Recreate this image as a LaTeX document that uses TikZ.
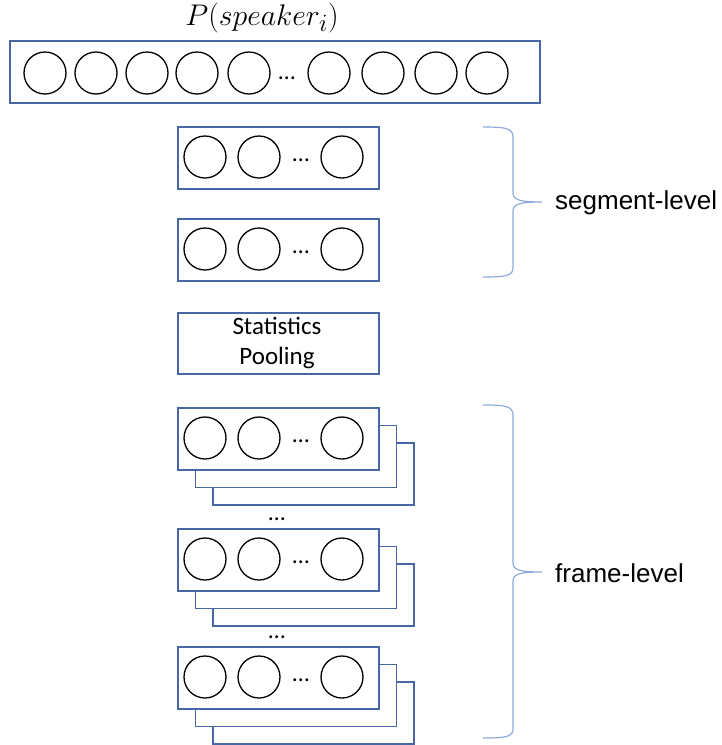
\documentclass[tikz,border=0pt]{standalone}
\usepackage{fontspec}
\setmainfont{Carlito}
\newfontfamily\arialfont{Liberation Sans}
\definecolor{boxblue}{RGB}{72,104,165}
\definecolor{braceblue}{RGB}{143,170,220}
\begin{document}
\begin{tikzpicture}[x=1pt,y=-1pt,
  layerbox/.style={draw=boxblue,line width=1.5pt,fill=white,rectangle,inner sep=0pt,anchor=north west},
  neuron/.style={draw=black,line width=1.3pt,circle,minimum size=42pt,inner sep=0pt},
  dotstext/.style={font=\fontsize{24}{24}\selectfont,inner sep=0pt},
  bracepath/.style={draw=braceblue,line width=1.2pt},
  lbl/.style={font=\arialfont\fontsize{26}{26}\selectfont,anchor=west,inner sep=0pt}]
\useasboundingbox (0,0) rectangle (722,745);
% title
\node[inner sep=0pt,font=\fontsize{24.88}{26}\selectfont] (title) at (262,18) {\scalebox{1.2}{$P(speaker_i)$}};
% output layer
\node[layerbox,minimum width=530pt,minimum height=62pt] (out) at (9,40) {};
\foreach \x [count=\i] in {45,96,147,197,249,329,383,436,487}
  \node[neuron] (o\i) at (\x,73) {};
\node[dotstext] (odots) at (287,78) {\dots};
% segment-level layers
\foreach \n/\y in {s1/126,s2/218}{
  \node[layerbox,minimum width=201pt,minimum height=62pt] (\n) at (177,\y) {};
  \node[neuron] (\n a) at (205,\y+31) {};
  \node[neuron] (\n b) at (259,\y+31) {};
  \node[neuron] (\n c) at (342,\y+31) {};
  \node[dotstext] (\n d) at (301,\y+34) {\dots};
}
% statistics pooling
\node[layerbox,minimum width=201pt,minimum height=61pt] (pool) at (177,312) {};
\node[font=\fontsize{25}{30}\selectfont,align=center,inner sep=0pt] (pooltxt) at (277,343) {Statistics\\Pooling};
% frame-level layers
\foreach \n/\y in {f1/407,f2/528,f3/646}{
  \node[layerbox,minimum width=201pt,minimum height=62pt] (\n bb) at (212,\y+35) {};
  \node[layerbox,minimum width=201pt,minimum height=62pt] (\n b) at (194.5,\y+17.5) {};
  \node[layerbox,minimum width=201pt,minimum height=62pt] (\n) at (177,\y) {};
  \node[neuron] (\n a) at (205,\y+31) {};
  \node[neuron] (\n b2) at (259,\y+31) {};
  \node[neuron] (\n c) at (342,\y+31) {};
  \node[dotstext] (\n d) at (301,\y+34) {\dots};
}
\node[dotstext] (gap1) at (277,519) {\dots};
\node[dotstext] (gap2) at (277,637) {\dots};
% braces
\draw[bracepath] (483,127) .. controls (505,127) and (513,128) .. (513,137) -- (513,193)
  .. controls (513,200) and (520,202) .. (542,202)
  .. controls (520,202) and (513,204) .. (513,211) -- (513,268)
  .. controls (513,276) and (505,277) .. (483,277);
\node[lbl] (seg) at (555,203) {segment-level};
\draw[bracepath] (483,405) .. controls (505,405) and (513,406) .. (513,415) -- (513,563)
  .. controls (513,570) and (520,572) .. (542,572)
  .. controls (520,572) and (513,574) .. (513,581) -- (513,729)
  .. controls (513,737) and (505,738) .. (483,738);
\node[lbl] (frm) at (555,573) {frame-level};
\end{tikzpicture}
\end{document}
